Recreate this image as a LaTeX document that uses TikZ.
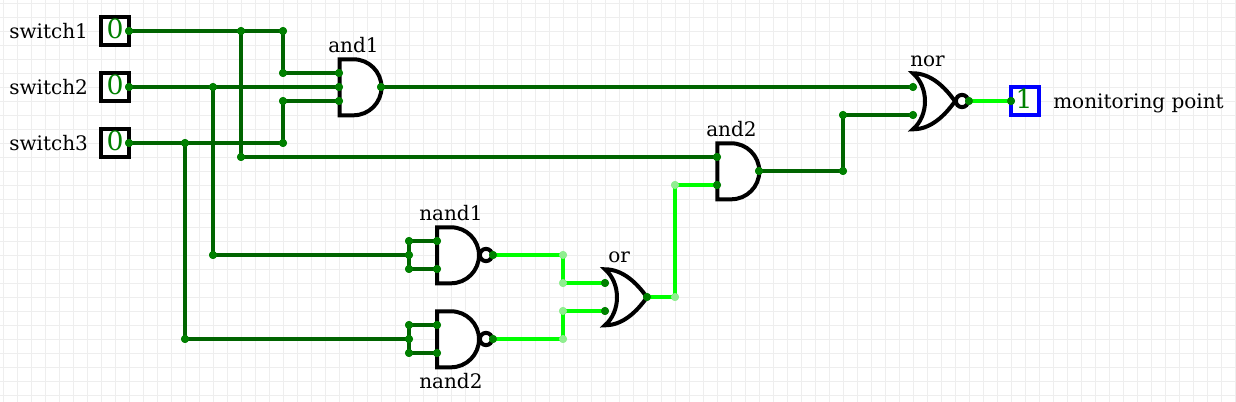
\documentclass[tikz,border=0pt]{standalone}
\usepackage{fontspec}
\setmainfont{DejaVu Serif}
\definecolor{wdark}{HTML}{006400}
\definecolor{wlit}{HTML}{00FF00}
\definecolor{dotdark}{HTML}{008000}
\definecolor{dotlit}{HTML}{90EE90}
\definecolor{gridc}{HTML}{EEEEEE}
\tikzset{
  x=0.75pt,y=-0.75pt,
  dk/.style={draw=wdark,line width=3pt,line join=miter},
  lt/.style={draw=wlit,line width=3pt,line join=miter},
  pin/.style={circle,fill=dotdark,draw=none,minimum size=6pt,inner sep=0pt},
  lpin/.style={circle,fill=dotlit,draw=none,minimum size=6pt,inner sep=0pt},
  gate/.style={draw=black,fill=white,line width=3pt,line join=miter},
  iobox/.style={draw=black,fill=white,line width=3pt,minimum size=21pt,inner sep=0pt},
  val/.style={text=dotdark,inner sep=0pt,font=\fontsize{20pt}{21pt}\selectfont},
  lab/.style={inner sep=0pt,font=\fontsize{15pt}{17pt}\selectfont},
}
\newcommand{\andbody}[2]{\draw[gate] (#1,#2-28) -- (#1+14,#2-28) arc[start angle=-90,end angle=90,radius=21pt,x radius=21pt,y radius=-21pt] -- (#1,#2+28) -- cycle;}
\newcommand{\orbody}[2]{\draw[gate] (#1,#2-28) .. controls (#1+18,#2-28) and (#1+32,#2-14) .. (#1+42,#2) .. controls (#1+32,#2+14) and (#1+18,#2+28) .. (#1,#2+28) .. controls (#1+16,#2+14) and (#1+16,#2-14) .. (#1,#2-28) -- cycle;}
\newcommand{\bubble}[2]{\draw[gate] (#1,#2) circle[radius=4.6pt];}
\begin{document}
\begin{tikzpicture}
\useasboundingbox (0,0) rectangle (1236,402);
\fill[white] (0,0) rectangle (1236,402);
\foreach \k in {0,...,88} \draw[gridc,line width=0.75pt] ({3.5+14*\k},0) -- ({3.5+14*\k},402);
\foreach \k in {0,...,28} \draw[gridc,line width=0.75pt] (0,{3.5+14*\k}) -- (1236,{3.5+14*\k});

% gate bodies
\andbody{339.5}{87.3}
\andbody{717.3}{171.3}
\bubble{486}{255}\andbody{437}{255.3}
\bubble{486}{339}\andbody{437}{339.3}
\orbody{605}{297.3}
\bubble{962}{101}\orbody{913}{101.3}

% boxes
\node[iobox] (sw1) at (115,31) {};
\node[iobox] (sw2) at (115,87) {};
\node[iobox] (sw3) at (115,143) {};
\node[iobox,draw=blue] (mon) at (1025,101) {};
\node[val] (v1) at (115,29) {0};
\node[val] (v2) at (115,85) {0};
\node[val] (v3) at (115,141) {0};
\node[val] (v4) at (1024,99) {1};

% pins and junctions
\foreach \n/\x/\y in {s1o/129/31,j1a/241/31,j1b/283/31,j1c/283/73,j1d/241/157,
  s2o/129/87,j2a/213/87,j2b/213/255,
  s3o/129/143,j3a/185/143,j3b/283/143,j3c/283/101,j3d/185/339,
  a1i1/339/73,a1i2/339/87,a1i3/339/101,a1o/381/87,
  a2i1/717/157,a2i2/717/185,a2o/759/171,
  j4a/843/171,j4b/843/115,
  ni1/913/87,ni2/913/115,no/969/101,mi/1011/101,
  n1a/409/241,n1b/409/255,n1c/409/269,n1i1/437/241,n1i2/437/269,n1o/493/255,
  n2a/409/325,n2b/409/339,n2c/409/353,n2i1/437/325,n2i2/437/353,n2o/493/339,
  oi1/605/283,oi2/605/311,oo/647/297}
  \node[pin] (\n) at (\x,\y) {};
\foreach \n/\x/\y in {l1/563/255,l2/563/283,l3/563/311,l4/563/339,l5/675/297,l6/675/185}
  \node[lpin] (\n) at (\x,\y) {};

% wires
\draw[dk] (s1o.center) -- (j1b.center) -- (j1c.center) -- (a1i1.center);
\draw[dk] (j1a.center) -- (j1d.center) -- (a2i1.center);
\draw[dk] (s2o.center) -- (a1i2.center);
\draw[dk] (j2a.center) -- (j2b.center) -- (n1b.center);
\draw[dk] (s3o.center) -- (j3b.center) -- (j3c.center) -- (a1i3.center);
\draw[dk] (j3a.center) -- (j3d.center) -- (n2b.center);
\draw[dk] (a1o.center) -- (ni1.center);
\draw[dk] (a2o.center) -- (j4a.center) -- (j4b.center) -- (ni2.center);
\draw[dk] (n1i1.center) -- (n1a.center) -- (n1c.center) -- (n1i2.center);
\draw[dk] (n2i1.center) -- (n2a.center) -- (n2c.center) -- (n2i2.center);
\draw[lt] (n1o.center) -- (l1.center) -- (l2.center) -- (oi1.center);
\draw[lt] (n2o.center) -- (l4.center) -- (l3.center) -- (oi2.center);
\draw[lt] (oo.center) -- (l5.center) -- (l6.center) -- (a2i2.center);
\draw[lt] (no.center) -- (mi.center);

% dots over wires
\foreach \n in {s1o,j1a,j1b,j1c,j1d,s2o,j2a,j2b,s3o,j3a,j3b,j3c,j3d,a1i1,a1i2,a1i3,a1o,a2i1,a2i2,a2o,j4a,j4b,ni1,ni2,no,mi,n1a,n1b,n1c,n1i1,n1i2,n1o,n2a,n2b,n2c,n2i1,n2i2,n2o,oi1,oi2,oo}
  \fill[dotdark] (\n) circle[radius=3pt];
\foreach \n in {l1,l2,l3,l4,l5,l6}
  \fill[dotlit] (\n) circle[radius=3pt];

% labels
\node[lab,anchor=base west] (t1) at (9,39) {switch1};
\node[lab,anchor=base west] (t2) at (9,95) {switch2};
\node[lab,anchor=base west] (t3) at (9,151) {switch3};
\node[lab,anchor=base west] (t4) at (328,53) {and1};
\node[lab,anchor=base west] (t5) at (706,137) {and2};
\node[lab,anchor=base west] (t6) at (419,221) {nand1};
\node[lab,anchor=base west] (t7) at (419,389) {nand2};
\node[lab,anchor=base west] (t8) at (608,263) {or};
\node[lab,anchor=base west] (t9) at (910,67) {nor};
\node[lab,anchor=base west] (t10) at (1053,109) {monitoring point};
\end{tikzpicture}
\end{document}
